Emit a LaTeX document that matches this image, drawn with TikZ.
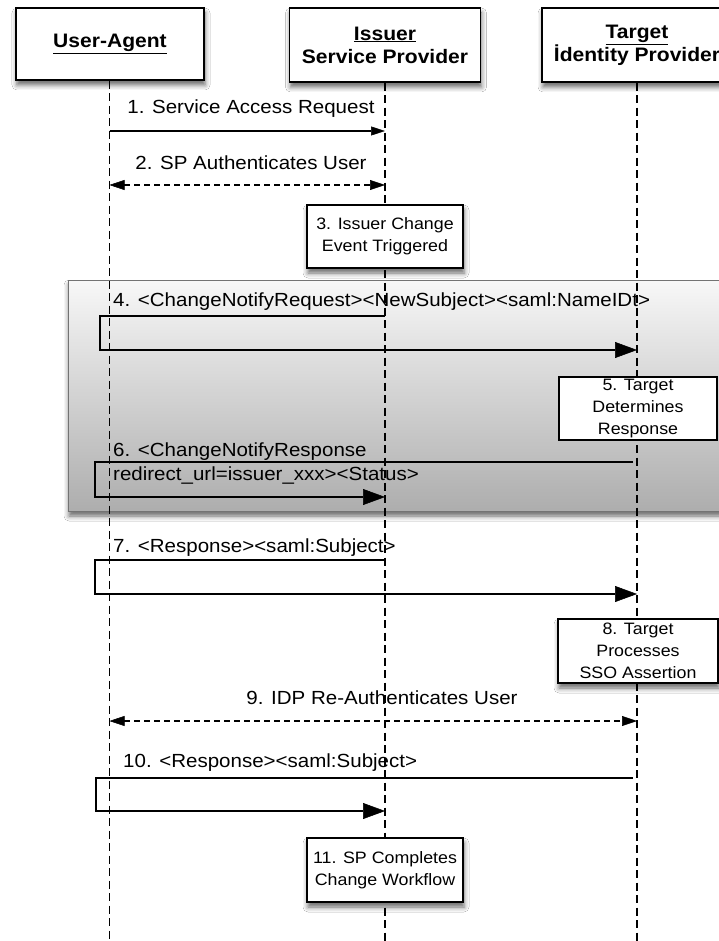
\documentclass[tikz,border=0pt]{standalone}
\usepackage{fontspec}
\setmainfont[FakeStretch=1.08]{Liberation Sans}
\usetikzlibrary{arrows.meta,shadows.blur}
\begin{document}
\begin{tikzpicture}[x=1pt,y=-1pt,
  shadowed/.style={blur shadow={shadow xshift=1pt, shadow yshift=-5pt, shadow blur radius=5pt, shadow opacity=60}},
  hdr/.style={draw, line width=1.3pt, fill=white, minimum width=190pt, minimum height=73pt, align=center, inner sep=2pt,
    font=\fontsize{19.5}{23}\selectfont\bfseries, shadowed},
  actbox/.style={draw, line width=1.2pt, fill=white, minimum width=157pt, minimum height=63pt, align=center, inner sep=2pt,
    font=\fontsize{16.5}{22}\selectfont},
  lifeline/.style={color=black, line width=1.2pt, dash pattern=on 8pt off 4.5pt},
  bigtip/.tip={Triangle[length=22pt,width=16pt,color=black,fill=black,line width=0.5pt]},
  smalltip/.tip={Triangle[length=14pt,width=9pt,color=black,fill=black,line width=0.5pt]},
  midtip/.tip={Triangle[length=15pt,width=10pt,color=black,fill=black,line width=0.5pt]},
  msg/.style={color=black, line width=1.2pt, -smalltip},
  bigmsg/.style={color=black, line width=1.2pt, -bigtip},
  dmsg/.style={color=black, line width=1.4pt, dash pattern=on 6pt off 4pt, midtip-midtip},
  lbl/.style={inner sep=0pt, text=black, font=\fontsize{19}{23}\selectfont}]
\useasboundingbox (0,0) rectangle (719,941);
\fill[white] (0,0) rectangle (719,941);

% grouping panel
\draw[draw=black!55, line width=0.8pt, top color=black!3, bottom color=black!32, shadowed] (68,280) rectangle (760,511);

% headers
\node[hdr, minimum width=188pt, minimum height=72pt] (ua) at (110,44) {\underline{User-Agent}};
\node[hdr, minimum width=191pt, minimum height=74pt] (sp) at (385,45) {\underline{Issuer}\\Service Provider};
\node[hdr, minimum width=190pt, minimum height=74pt] (idp) at (637,45) {\underline{Target}\\İdentity Provider};

% lifeline ends
\coordinate (uaend) at (109.5,941);
\coordinate (spend) at (385,941);
\coordinate (idpend) at (637,941);
\draw[lifeline] (ua.south -| uaend) -- (uaend);
\draw[lifeline] (sp.south) -- (spend);
\draw[lifeline] (idp.south) -- (idpend);

% activity boxes
\node[actbox, shadowed, minimum width=156pt] (b3) at (385,236.5) {3. Issuer Change\\Event Triggered};
\node[actbox, minimum width=158pt] (b5) at (638,408.5) {5. Target\\Determines\\Response};
\node[actbox, shadowed, minimum width=160pt, minimum height=64pt] (b8) at (638,651) {8. Target\\Processes\\SSO Assertion};
\node[actbox, shadowed, minimum width=156pt, minimum height=64pt] (b11) at (385,870) {11. SP Completes\\Change Workflow};

% message 1
\coordinate (m1s) at (109.5,131);
\coordinate (m1e) at (385,131);
\draw[msg] (m1s) -- (m1e);
\node[lbl, anchor=base] (t1) at (251,114) {1. Service Access Request};

% message 2
\coordinate (m2s) at (109.5,185);
\coordinate (m2e) at (385,185);
\draw[dmsg] (m2s) -- (m2e);
\node[lbl, anchor=base] (t2) at (251,170) {2. SP Authenticates User};

% message 4
\coordinate (m4s) at (385,316);
\coordinate (m4l) at (100,316);
\coordinate (m4e) at (637,350);
\draw[bigmsg] (m4s) -- (m4l) |- (m4e);
\node[lbl, anchor=base west] (t4) at (113,306) {4. <ChangeNotifyRequest><NewSubject><saml:NameIDt>};

% message 6
\coordinate (m6s) at (633,462);
\coordinate (m6l) at (95,462);
\coordinate (m6e) at (385,497);
\draw[bigmsg] (m6s) -- (m6l) |- (m6e);
\node[lbl, anchor=base west] (t6a) at (113,456) {6. <ChangeNotifyResponse};
\node[lbl, anchor=base west] (t6b) at (113,480) {redirect\_url=issuer\_xxx><Status>};

% message 7
\coordinate (m7s) at (385,560);
\coordinate (m7l) at (95,560);
\coordinate (m7e) at (637,594);
\draw[bigmsg] (m7s) -- (m7l) |- (m7e);
\node[lbl, anchor=base west] (t7) at (113,552) {7. <Response><saml:Subject>};

% message 9
\coordinate (m9s) at (109.5,721);
\coordinate (m9e) at (637,721);
\draw[dmsg] (m9s) -- (m9e);
\node[lbl, anchor=base] (t9) at (382,704) {9. IDP Re-Authenticates User};

% message 10
\coordinate (m10s) at (633,778);
\coordinate (m10l) at (96,778);
\coordinate (m10e) at (385,811);
\draw[bigmsg] (m10s) -- (m10l) |- (m10e);
\node[lbl, anchor=base west] (t10) at (123,767) {10. <Response><saml:Subject>};
\end{tikzpicture}
\end{document}
